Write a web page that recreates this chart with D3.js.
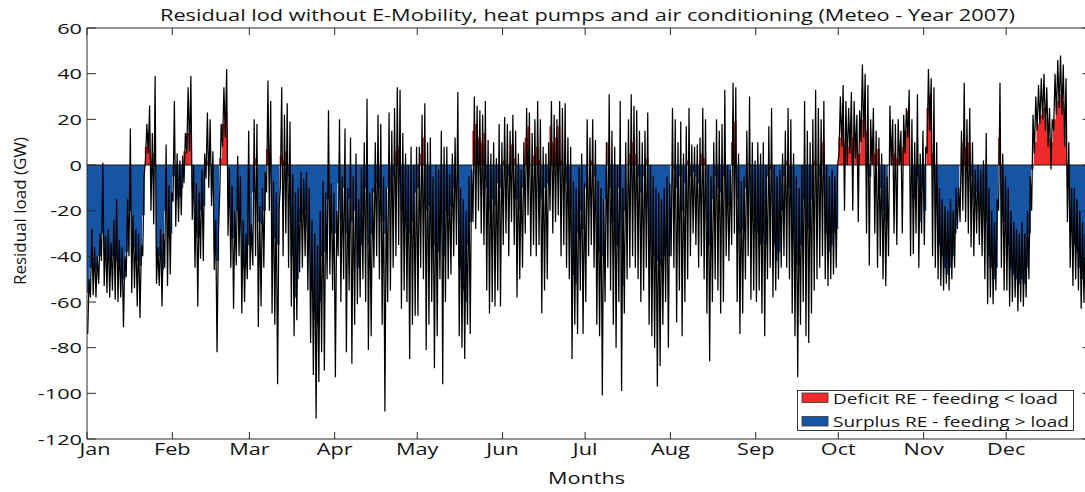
<!DOCTYPE html>
<html>
<head>
<meta charset="utf-8">
<script src="https://cdn.jsdelivr.net/npm/d3@7"></script>
<style>
    body { margin: 0; background: #fff; }
    text { font-family: "Open Sans", sans-serif; fill: #141414; }
</style>
</head>
<body>
<div id="chart"></div>
<script>
// daily values in GW: [lowest hour, highest hour, day level of the fill]
const jan = [[-74,-50,-56],[-58,-28,-45],[-57,-36,-45],[-58,-40,-46],[-52,-30,-40],[-42,1,-30],[-53,-31,-38],[-56,-28,-42],[-58,-34,-44],[-55,-24,-40],[-59,-15,-42],[-60,-33,-46],[-58,-36,-47],[-71,-40,-50],[-49,-15,-38],[-40,16,-20],[-56,-22,-34],[-54,-28,-36],[-62,-30,-42],[-67,-35,-44],[-40,-5,-22],[2,18,8],[5,26,14],[-20,14,2],[-26,39,5],[-52,-36,-40],[-53,-28,-40],[-62,-30,-46],[-45,9,-20],[-53,-9,-32],[-48,-12,-30]];
const feb = [[-16,28,-5],[-27,5,-15],[-25,2,-14],[-22,4,-10],[-8,14,6],[5,34,14],[6,39,16],[-24,0,-10],[-45,-8,-28],[-62,-12,-32],[-41,-2,-20],[-42,5,-18],[-6,23,2],[-10,20,1],[-18,6,-5],[-46,-24,-38],[-82,-30,-42],[-12,18,3],[8,34,18],[12,42,23],[-31,-1,-15],[-45,-9,-25],[-63,-20,-32],[-44,4,-20],[-40,-5,-22],[-65,-24,-45],[-60,-30,-45],[-50,15,-35]];
const mar = [[-46,-26,-32],[-44,20,-12],[-40,18,3],[-71,-18,-25],[-62,-10,-26],[-45,-3,-20],[-12,37,7],[-20,28,4],[-65,-7,-30],[-70,-12,-32],[-96,-20,-35],[-10,34,4],[-40,22,2],[-30,27,6],[-45,19,-5],[-62,-4,-40],[-75,-12,-58],[-68,-10,-50],[-47,-3,-25],[-45,-6,-22],[-40,-3,-20],[-55,-10,-30],[-78,-24,-55],[-92,-30,-65],[-111,-35,-70],[-95,-20,-60],[-82,-7,-40],[-90,-12,-38],[-50,24,-15],[-48,-8,-28],[-55,-12,-30]];
const apr = [[-93,-20,-30],[-40,20,-8],[-60,-5,-25],[-50,16,-10],[-82,-10,-30],[-55,12,-15],[-87,-5,-25],[-70,5,-20],[-61,-15,-45],[-58,-1,-35],[-50,10,-20],[-60,29,-10],[-81,-12,-35],[-75,-10,-30],[-45,10,-12],[-40,22,-8],[-50,18,-10],[-70,-5,-25],[-108,-10,-30],[-60,23,-10],[-55,15,-12],[-45,25,-5],[-40,34,6],[-35,33,8],[-63,14,-20],[-55,5,-25],[-60,0,-28],[-85,8,-30],[-70,0,-25],[-66,8,-12]];
const may = [[-66,8,-10],[-45,22,5],[-50,27,12],[-81,10,-20],[-70,12,-18],[-60,-5,-30],[-89,0,-35],[-75,-2,-38],[-50,15,-25],[-96,8,-40],[-60,8,-20],[-50,-4,-22],[-48,5,-18],[-40,12,-10],[-35,32,0],[-75,-10,-45],[-80,-15,-55],[-85,-20,-60],[-70,-5,-35],[-74,-2,-25],[-25,30,15],[-28,26,18],[-20,24,12],[-30,22,10],[-35,28,14],[-55,11,-10],[-65,5,-20],[-60,10,-15],[-62,3,-18],[-55,18,-8],[-62,10,-10]];
const jun = [[-35,21,2],[-30,18,-2],[-40,15,-5],[-25,22,9],[-35,15,3],[-58,5,-15],[-50,-2,-20],[-45,10,-10],[-30,25,12],[-22,23,17],[-40,14,0],[-35,20,4],[-40,28,8],[-35,20,2],[-65,8,-15],[-55,5,-10],[-50,10,-8],[-20,28,17],[-30,22,10],[-25,20,12],[-22,28,17],[-40,25,2],[-35,27,0],[-45,12,-8],[-50,8,-20],[-85,-7,-48],[-70,-10,-52],[-74,-1,-30],[-55,5,-20],[-74,-8,-28]];
const jul = [[-60,20,-10],[-40,12,0],[-35,20,2],[-45,11,-5],[-70,-7,-35],[-75,-10,-38],[-101,-15,-40],[-60,10,-15],[-45,31,10],[-55,15,-10],[-70,8,-25],[-80,0,-35],[-60,28,-10],[-99,-10,-53],[-65,10,-20],[-50,20,0],[-45,31,5],[-40,26,10],[-45,24,5],[-50,15,-5],[-60,10,-12],[-55,15,-5],[-45,23,3],[-70,0,-30],[-75,-5,-38],[-80,-10,-40],[-97,-12,-42],[-88,-15,-44],[-70,-10,-40],[-60,-5,-35],[-80,-8,-40]];
const aug = [[-40,25,0],[-45,20,-2],[-69,10,-10],[-55,19,-5],[-75,5,-20],[-60,17,-8],[-50,25,2],[-40,9,-5],[-30,8,-3],[-35,9,-5],[-45,12,-8],[-40,25,5],[-50,20,3],[-65,0,-25],[-86,-5,-35],[-60,10,-15],[-50,20,-5],[-55,15,-10],[-65,18,-12],[-60,33,-5],[-40,0,-15],[-42,-2,-18],[-35,36,10],[-30,34,19],[-60,5,-15],[-74,-7,-30],[-65,-5,-28],[-50,15,-10],[-40,30,0],[-59,10,-25],[-55,2,-22]];
const sep = [[-60,10,-30],[-55,5,-35],[-65,10,-30],[-75,0,-35],[-50,17,-5],[-45,25,-2],[-58,0,-35],[-55,-5,-42],[-50,-2,-38],[-45,5,-20],[-40,15,-5],[-45,25,2],[-50,20,-10],[-65,5,-30],[-75,-5,-40],[-93,-10,-44],[-70,0,-35],[-60,28,-15],[-75,15,-25],[-78,10,-28],[-65,20,-15],[-55,33,2],[-50,25,0],[-45,20,-5],[-40,28,10],[-50,0,-30],[-53,-5,-38],[-50,-2,-35],[-48,-5,-30],[-45,0,-28]];
const oct = [[5,30,12],[8,35,17],[-20,28,10],[0,25,8],[5,32,15],[-20,28,12],[3,22,11],[-25,24,5],[10,44,20],[12,40,22],[-30,35,15],[-44,20,-5],[0,25,10],[-30,15,5],[-45,12,7],[-40,5,-10],[-50,0,-20],[-53,-5,-25],[-40,26,0],[0,20,8],[-30,18,5],[-35,20,3],[0,15,5],[-30,22,8],[5,25,15],[12,33,24],[-40,20,0],[-39,10,-15],[-30,31,-5],[-45,5,-25],[-30,15,-10]];
const nov = [[-35,8,-20],[5,42,25],[15,38,31],[-40,34,5],[-45,10,-15],[-50,-10,-35],[-53,-15,-40],[-55,-18,-45],[-52,-20,-48],[-55,-15,-45],[-50,-20,-40],[-45,-10,-30],[-28,-10,-18],[-25,15,0],[-20,36,10],[-25,20,8],[-30,25,10],[-36,10,-5],[-40,-2,-15],[-30,0,-12],[-35,-2,-18],[-40,2,-20],[-50,14,-25],[-61,-10,-40],[-58,-20,-45],[-61,-25,-50],[-55,-15,-45],[-20,36,12],[-45,5,-15],[-55,-5,-25]];
const dec = [[-55,-10,-35],[-62,-20,-45],[-60,-25,-48],[-58,-28,-50],[-64,-30,-52],[-60,-25,-50],[-62,-30,-52],[-58,-20,-45],[-50,-5,-30],[-20,22,-2],[5,30,10],[15,35,18],[18,38,22],[20,40,25],[15,34,20],[8,25,12],[-2,20,10],[15,40,20],[22,46,28],[25,48,31],[22,44,28],[8,38,15],[-25,10,-10],[-45,-10,-30],[-53,-10,-35],[-50,-15,-38],[-55,-20,-45],[-63,-25,-50],[-60,-30,-52],[-64,-35,-55],[-64,-40,-55]];

const monthLabels = ['Jan', 'Feb', 'Mar', 'Apr', 'May', 'Jun', 'Jul', 'Aug', 'Sep', 'Oct', 'Nov', 'Dec'];
const yTicks = [60, 40, 20, 0, -20, -40, -60, -80, -100, -120];
const legendItems = [
    { label: 'Deficit RE - feeding < load', color: '#ef2a2a', len: 225 },
    { label: 'Surplus RE - feeding > load', color: '#1654a4', len: 236 }
];

const days = [].concat(jan, feb, mar, apr, may, jun, jul, aug, sep, oct, nov, dec);

const W = 1085, H = 492;
const plotL = 87, plotR = 1091.5, plotT = 28, plotB = 439;

const x = d3.scaleTime()
    .domain([new Date(2007, 0, 1), new Date(2008, 0, 1)])
    .range([plotL, plotR]);
const y = d3.scaleLinear().domain([-120, 60]).range([plotB, plotT]);

function dayDate(i, hour) {
    return new Date(2007, 0, 1 + i, hour);
}

// hourly swing drawn as low / high per day
const linePts = [];
days.forEach(function(d, i) {
    linePts.push({ t: dayDate(i, 6), v: d[0] });
    linePts.push({ t: dayDate(i, 18), v: d[1] });
});

const fillPts = days.map(function(d, i) { return { t: dayDate(i, 0), v: d[2] }; });
fillPts.push({ t: dayDate(days.length, 0), v: days[days.length - 1][2] });

const svg = d3.select('#chart').append('svg')
    .attr('width', W)
    .attr('height', H);

const defs = svg.append('defs');
defs.append('clipPath').attr('id', 'clip-pos')
    .append('rect').attr('x', plotL).attr('y', plotT).attr('width', plotR - plotL).attr('height', y(0) - plotT);
defs.append('clipPath').attr('id', 'clip-neg')
    .append('rect').attr('x', plotL).attr('y', y(0)).attr('width', plotR - plotL).attr('height', plotB - y(0));
defs.append('clipPath').attr('id', 'clip-plot')
    .append('rect').attr('x', plotL).attr('y', plotT).attr('width', plotR - plotL).attr('height', plotB - plotT);

const area = d3.area()
    .x(function(d) { return x(d.t); })
    .y0(y(0))
    .y1(function(d) { return y(d.v); })
    .curve(d3.curveStepAfter);

svg.append('path')
    .datum(fillPts)
    .attr('d', area)
    .attr('fill', legendItems[0].color)
    .attr('clip-path', 'url(#clip-pos)');

svg.append('path')
    .datum(fillPts)
    .attr('d', area)
    .attr('fill', legendItems[1].color)
    .attr('clip-path', 'url(#clip-neg)');

svg.append('line')
    .attr('x1', plotL).attr('x2', plotR)
    .attr('y1', y(0)).attr('y2', y(0))
    .attr('stroke', '#1a1a1a')
    .attr('stroke-width', 1);

const line = d3.line()
    .x(function(d) { return x(d.t); })
    .y(function(d) { return y(d.v); });

svg.append('path')
    .datum(linePts)
    .attr('d', line)
    .attr('fill', 'none')
    .attr('stroke', '#000')
    .attr('stroke-width', 1.25)
    .attr('clip-path', 'url(#clip-plot)');

// box and ticks
const monthTicks = d3.timeMonths(new Date(2007, 0, 1), new Date(2008, 0, 1));

const frame = svg.append('g').attr('stroke', '#2a2a2a').attr('stroke-width', 1);
frame.append('line').attr('x1', plotL).attr('x2', plotL).attr('y1', plotT).attr('y2', plotB);
frame.append('line').attr('x1', plotR).attr('x2', plotR).attr('y1', plotT).attr('y2', plotB);
frame.append('line').attr('x1', plotL).attr('x2', plotR).attr('y1', plotT).attr('y2', plotT);
frame.append('line').attr('x1', plotL).attr('x2', plotR).attr('y1', plotB).attr('y2', plotB);

frame.selectAll('line.ytick-l')
    .data(yTicks)
    .join('line')
    .classed('ytick-l', true)
    .attr('x1', plotL).attr('x2', plotL + 9)
    .attr('y1', function(d) { return y(d); })
    .attr('y2', function(d) { return y(d); });

frame.selectAll('line.ytick-r')
    .data(yTicks)
    .join('line')
    .classed('ytick-r', true)
    .attr('x1', plotR - 9).attr('x2', plotR)
    .attr('y1', function(d) { return y(d); })
    .attr('y2', function(d) { return y(d); });

frame.selectAll('line.xtick-b')
    .data(monthTicks)
    .join('line')
    .classed('xtick-b', true)
    .attr('x1', function(d) { return x(d); })
    .attr('x2', function(d) { return x(d); })
    .attr('y1', plotB).attr('y2', plotB - 7);

frame.selectAll('line.xtick-t')
    .data(monthTicks)
    .join('line')
    .classed('xtick-t', true)
    .attr('x1', function(d) { return x(d); })
    .attr('x2', function(d) { return x(d); })
    .attr('y1', plotT).attr('y2', plotT + 7);

// labels, stretched wide like the original
svg.selectAll('g.ylab')
    .data(yTicks)
    .join('g')
    .classed('ylab', true)
    .attr('transform', function(d) { return 'translate(82,' + (y(d) + 5.5) + ') scale(1.45,1)'; })
    .append('text')
    .attr('text-anchor', 'end')
    .style('font-size', '15px')
    .text(function(d) { return d; });

svg.selectAll('g.xlab')
    .data(monthTicks)
    .join('g')
    .classed('xlab', true)
    .attr('transform', function(d, i) {
        const px = i === 0 ? 95 : x(d);
        return 'translate(' + px + ',455) scale(1.4,1)';
    })
    .append('text')
    .attr('text-anchor', 'middle')
    .style('font-size', '15.5px')
    .text(function(d, i) { return monthLabels[i]; });

svg.append('text')
    .attr('x', 587.5).attr('y', 20.5)
    .attr('text-anchor', 'middle')
    .attr('textLength', 855)
    .attr('lengthAdjust', 'spacingAndGlyphs')
    .style('font-size', '17px')
    .text('Residual lod without E-Mobility, heat pumps and air conditioning (Meteo - Year 2007)');

svg.append('text')
    .attr('x', 586.5).attr('y', 484)
    .attr('text-anchor', 'middle')
    .attr('textLength', 77)
    .attr('lengthAdjust', 'spacingAndGlyphs')
    .style('font-size', '17px')
    .text('Months');

svg.append('text')
    .attr('transform', 'translate(26,211) rotate(-90)')
    .attr('text-anchor', 'middle')
    .attr('textLength', 148)
    .attr('lengthAdjust', 'spacingAndGlyphs')
    .style('font-size', '16.5px')
    .text('Residual load (GW)');

// legend
const legend = svg.append('g');
legend.append('rect')
    .attr('x', 797.5).attr('y', 390.5)
    .attr('width', 276).attr('height', 40)
    .attr('fill', '#fff')
    .attr('stroke', '#333');

const rows = legend.selectAll('g.row')
    .data(legendItems)
    .join('g')
    .classed('row', true)
    .attr('transform', function(d, i) { return 'translate(0,' + (i * 23.5) + ')'; });

rows.append('rect')
    .attr('x', 802).attr('y', 393)
    .attr('width', 26).attr('height', 9.5)
    .attr('fill', function(d) { return d.color; })
    .attr('stroke', '#333')
    .attr('stroke-width', 0.8);

rows.append('text')
    .attr('x', 833).attr('y', 403.5)
    .attr('textLength', function(d) { return d.len; })
    .attr('lengthAdjust', 'spacingAndGlyphs')
    .style('font-size', '15px')
    .text(function(d) { return d.label; });
</script>
</body>
</html>
